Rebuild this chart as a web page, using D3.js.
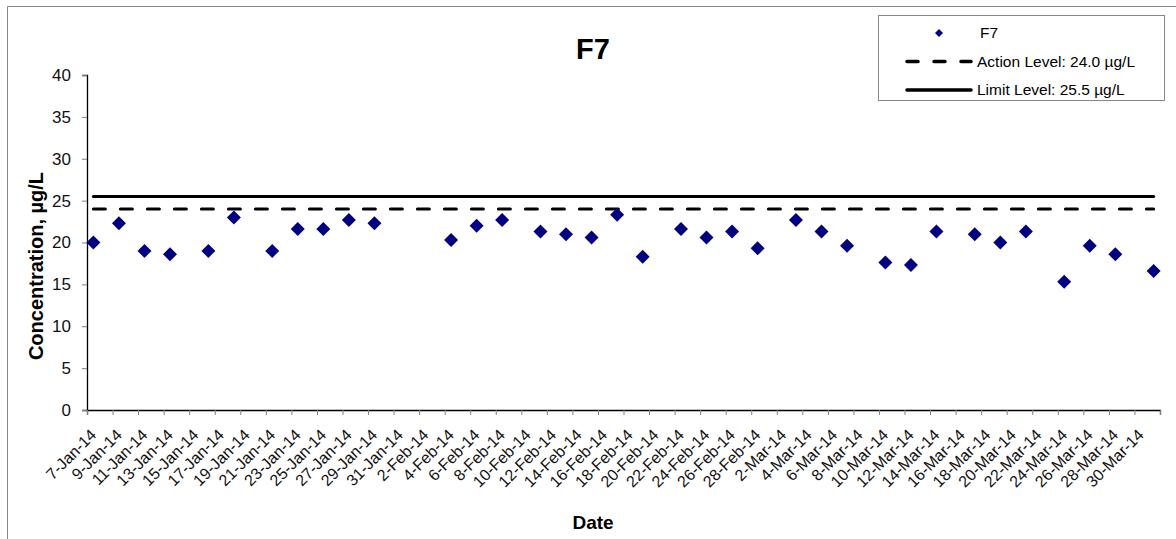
<!DOCTYPE html>
<html>
<head>
<meta charset="utf-8">
<script src="https://cdn.jsdelivr.net/npm/d3@7"></script>
<style>
  body { margin: 0; background: #fff; }
  svg { display: block; font-family: Arial, "Liberation Sans", sans-serif; }
</style>
</head>
<body>
<svg width="1176" height="539"></svg>
<script>
// sample dates and F7 concentrations (ug/L)
var sampleDates = ["7-Jan-14", "9-Jan-14", "11-Jan-14", "13-Jan-14", "16-Jan-14", "18-Jan-14",
  "21-Jan-14", "23-Jan-14", "25-Jan-14", "27-Jan-14", "29-Jan-14", "4-Feb-14", "6-Feb-14",
  "8-Feb-14", "11-Feb-14", "13-Feb-14", "15-Feb-14", "17-Feb-14", "19-Feb-14", "22-Feb-14",
  "24-Feb-14", "26-Feb-14", "28-Feb-14", "3-Mar-14", "5-Mar-14", "7-Mar-14", "10-Mar-14",
  "12-Mar-14", "14-Mar-14", "17-Mar-14", "19-Mar-14", "21-Mar-14", "24-Mar-14", "26-Mar-14",
  "28-Mar-14", "31-Mar-14"];
var f7Values = [20.0, 22.3, 19.0, 18.6, 19.0, 23.0, 19.0, 21.6, 21.6, 22.7, 22.3, 20.3, 22.0,
  22.7, 21.3, 21.0, 20.6, 23.3, 18.3, 21.6, 20.6, 21.3, 19.3, 22.7, 21.3, 19.6, 17.6,
  17.3, 21.3, 21.0, 20.0, 21.3, 15.3, 19.6, 18.6, 16.6];

var actionLevel = 24.0,
    limitLevel = 25.5;

// x tick labels (every 2 days)
var tickLabels = ["7-Jan-14", "9-Jan-14", "11-Jan-14", "13-Jan-14", "15-Jan-14", "17-Jan-14",
  "19-Jan-14", "21-Jan-14", "23-Jan-14", "25-Jan-14", "27-Jan-14", "29-Jan-14", "31-Jan-14",
  "2-Feb-14", "4-Feb-14", "6-Feb-14", "8-Feb-14", "10-Feb-14", "12-Feb-14", "14-Feb-14",
  "16-Feb-14", "18-Feb-14", "20-Feb-14", "22-Feb-14", "24-Feb-14", "26-Feb-14", "28-Feb-14",
  "2-Mar-14", "4-Mar-14", "6-Mar-14", "8-Mar-14", "10-Mar-14", "12-Mar-14", "14-Mar-14",
  "16-Mar-14", "18-Mar-14", "20-Mar-14", "22-Mar-14", "24-Mar-14", "26-Mar-14", "28-Mar-14",
  "30-Mar-14"];
var axisEnd = "1-Apr-14";
var yTicks = [0, 5, 10, 15, 20, 25, 30, 35, 40];

var parse = d3.utcParse("%d-%b-%y");
var halfDay = 12 * 3600 * 1000;

var data = sampleDates.map((d, i) => ({date: parse(d), value: f7Values[i]}));
var ticks = tickLabels.map(parse).concat([parse(axisEnd)]);

var plot = {left: 87, right: 1160, top: 75, bottom: 410};

var svg = d3.select("svg");

// outer chart border (only left/top visible in crop)
svg.append("path")
    .attr("d", "M7.5,539 V6.5 H1176")
    .attr("fill", "none")
    .attr("stroke", "#888")
    .attr("stroke-width", 1);

// Scales
var x = d3.scaleUtc()
    .domain([ticks[0], ticks[ticks.length - 1]])
    .range([plot.left, plot.right]);

var y = d3.scaleLinear()
    .domain([0, 40])
    .range([plot.bottom, plot.top]);

// Y axis
var yAxis = svg.append("g")
    .attr("transform", `translate(${plot.left},0)`)
    .call(d3.axisLeft(y).tickValues(yTicks).tickSize(5).tickPadding(11));
yAxis.select(".domain").attr("stroke", "#000").attr("stroke-width", 1.3);
yAxis.selectAll(".tick line").attr("stroke", "#808080");
yAxis.selectAll(".tick text")
    .attr("font-size", 17)
    .attr("font-family", "Arial, 'Liberation Sans', sans-serif")
    .attr("fill", "#111");

// X axis ticks
var xAxis = svg.append("g")
    .attr("transform", `translate(0,${plot.bottom})`)
    .call(d3.axisBottom(x).tickValues(ticks).tickSize(5).tickFormat(""));
xAxis.select(".domain").attr("stroke", "#000").attr("stroke-width", 1.3);
xAxis.selectAll(".tick line").attr("stroke", "#808080");

// X tick labels, rotated, centred on each labelled day
svg.append("g")
    .selectAll("text")
    .data(tickLabels)
  .enter().append("text")
    .attr("transform", d => `translate(${x(+parse(d) + halfDay) + 4},${plot.bottom + 26}) rotate(-45)`)
    .attr("text-anchor", "end")
    .attr("font-size", 16)
    .attr("fill", "#111")
    .text(d => d);

// Action / limit lines
svg.append("line")
    .attr("x1", x(+data[0].date + halfDay))
    .attr("x2", x(+data[data.length - 1].date + halfDay))
    .attr("y1", y(actionLevel))
    .attr("y2", y(actionLevel))
    .attr("stroke", "#000")
    .attr("stroke-width", 3)
    .attr("stroke-linecap", "round")
    .attr("stroke-dasharray", "12,15");

svg.append("line")
    .attr("x1", x(+data[0].date + halfDay))
    .attr("x2", x(+data[data.length - 1].date + halfDay))
    .attr("y1", y(limitLevel))
    .attr("y2", y(limitLevel))
    .attr("stroke", "#000")
    .attr("stroke-width", 3)
    .attr("stroke-linecap", "round");

// Points
var diamond = r => `M0,${-r}L${r},0L0,${r}L${-r},0Z`;
svg.append("g")
    .selectAll("path")
    .data(data)
  .enter().append("path")
    .attr("transform", d => `translate(${x(+d.date + halfDay)},${y(d.value)})`)
    .attr("d", diamond(7))
    .attr("fill", "#000080");

// Titles
svg.append("text")
    .attr("x", 593)
    .attr("y", 59)
    .attr("text-anchor", "middle")
    .attr("font-size", 29)
    .attr("font-weight", "bold")
    .text("F7");

svg.append("text")
    .attr("transform", "translate(43,266) rotate(-90)")
    .attr("text-anchor", "middle")
    .attr("font-size", 20)
    .attr("font-weight", "bold")
    .text("Concentration, \u00b5g/L");

svg.append("text")
    .attr("x", 593)
    .attr("y", 529)
    .attr("text-anchor", "middle")
    .attr("font-size", 19)
    .attr("font-weight", "bold")
    .text("Date");

// Legend
var legend = svg.append("g");
legend.append("rect")
    .attr("x", 878.5)
    .attr("y", 15.5)
    .attr("width", 286)
    .attr("height", 85)
    .attr("fill", "#fff")
    .attr("stroke", "#888");

legend.append("path")
    .attr("transform", "translate(939,33)")
    .attr("d", diamond(4))
    .attr("fill", "#000080");
legend.append("text")
    .attr("x", 980).attr("y", 38)
    .attr("font-size", 15.5)
    .text("F7");

legend.append("line")
    .attr("x1", 907).attr("x2", 971)
    .attr("y1", 61.5).attr("y2", 61.5)
    .attr("stroke", "#000").attr("stroke-width", 3.5)
    .attr("stroke-linecap", "round")
    .attr("stroke-dasharray", "11,16");
legend.append("text")
    .attr("x", 977).attr("y", 67)
    .attr("font-size", 15.5)
    .text("Action Level: 24.0 \u00b5g/L");

legend.append("line")
    .attr("x1", 907).attr("x2", 971)
    .attr("y1", 90).attr("y2", 90)
    .attr("stroke", "#000").attr("stroke-width", 3.5)
    .attr("stroke-linecap", "round");
legend.append("text")
    .attr("x", 977).attr("y", 95)
    .attr("font-size", 15.5)
    .text("Limit Level: 25.5 \u00b5g/L");
</script>
</body>
</html>
